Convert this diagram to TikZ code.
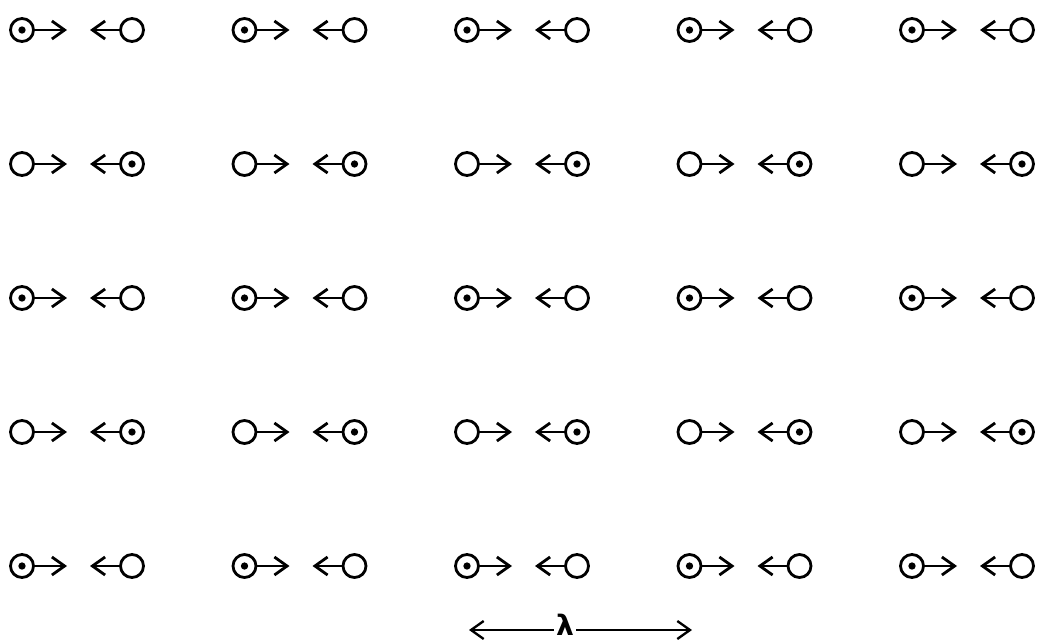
\documentclass[tikz,border=0pt]{standalone}
\usepackage{fontspec}
\newfontfamily\lamfont{DejaVu Sans}
\usepackage{tikz}
\usetikzlibrary{arrows.meta,positioning}

\begin{document}
\begin{tikzpicture}[
  x=0.03cm, y=-0.03cm,
  line width=2.4pt,
  ring/.style ={draw,circle,minimum size=6.9mm,inner sep=0pt},
  lbl/.style  ={font=\lamfont\bfseries\fontsize{24}{26}\selectfont,inner sep=1pt},
  >={Straight Barb[length=3.8mm,width=5.4mm]}]

\useasboundingbox (0,0) rectangle (1039,641);

%---------------- dipole pairs : 5 rows x 5 columns ----------------
\foreach \r in {0,...,4}{
  \foreach \c in {0,...,4}{
    \pgfmathsetmacro{\xa}{22+222.5*\c}
    \pgfmathsetmacro{\yy}{30+134*\r}
    \node[ring] (l-\r-\c) at (\xa,\yy) {};
    \node[ring] (r-\r-\c) at (\xa+110,\yy) {};
    \coordinate (tr-\r-\c) at (\xa+45,\yy);
    \coordinate (tl-\r-\c) at (\xa+68,\yy);
    \draw[->] (l-\r-\c) -- (tr-\r-\c);
    \draw[->] (r-\r-\c) -- (tl-\r-\c);
    % dot alternates from row to row
    \pgfmathparse{int(mod(\r,2))}
    \ifnum\pgfmathresult=0 \fill (l-\r-\c.center) circle (1.1mm);
    \else \fill (r-\r-\c.center) circle (1.1mm); \fi
  }
}

%---------------- wavelength ----------------
\coordinate (wa) at (469,630);
\coordinate (wb) at (692,630);
\node[lbl] (lam) at (565,625) {λ};
\draw[->,line width=2pt] (lam.west |- wa) -- (wa);
\draw[->,line width=2pt] (lam.east |- wb) -- (wb);

\end{tikzpicture}
\end{document}
